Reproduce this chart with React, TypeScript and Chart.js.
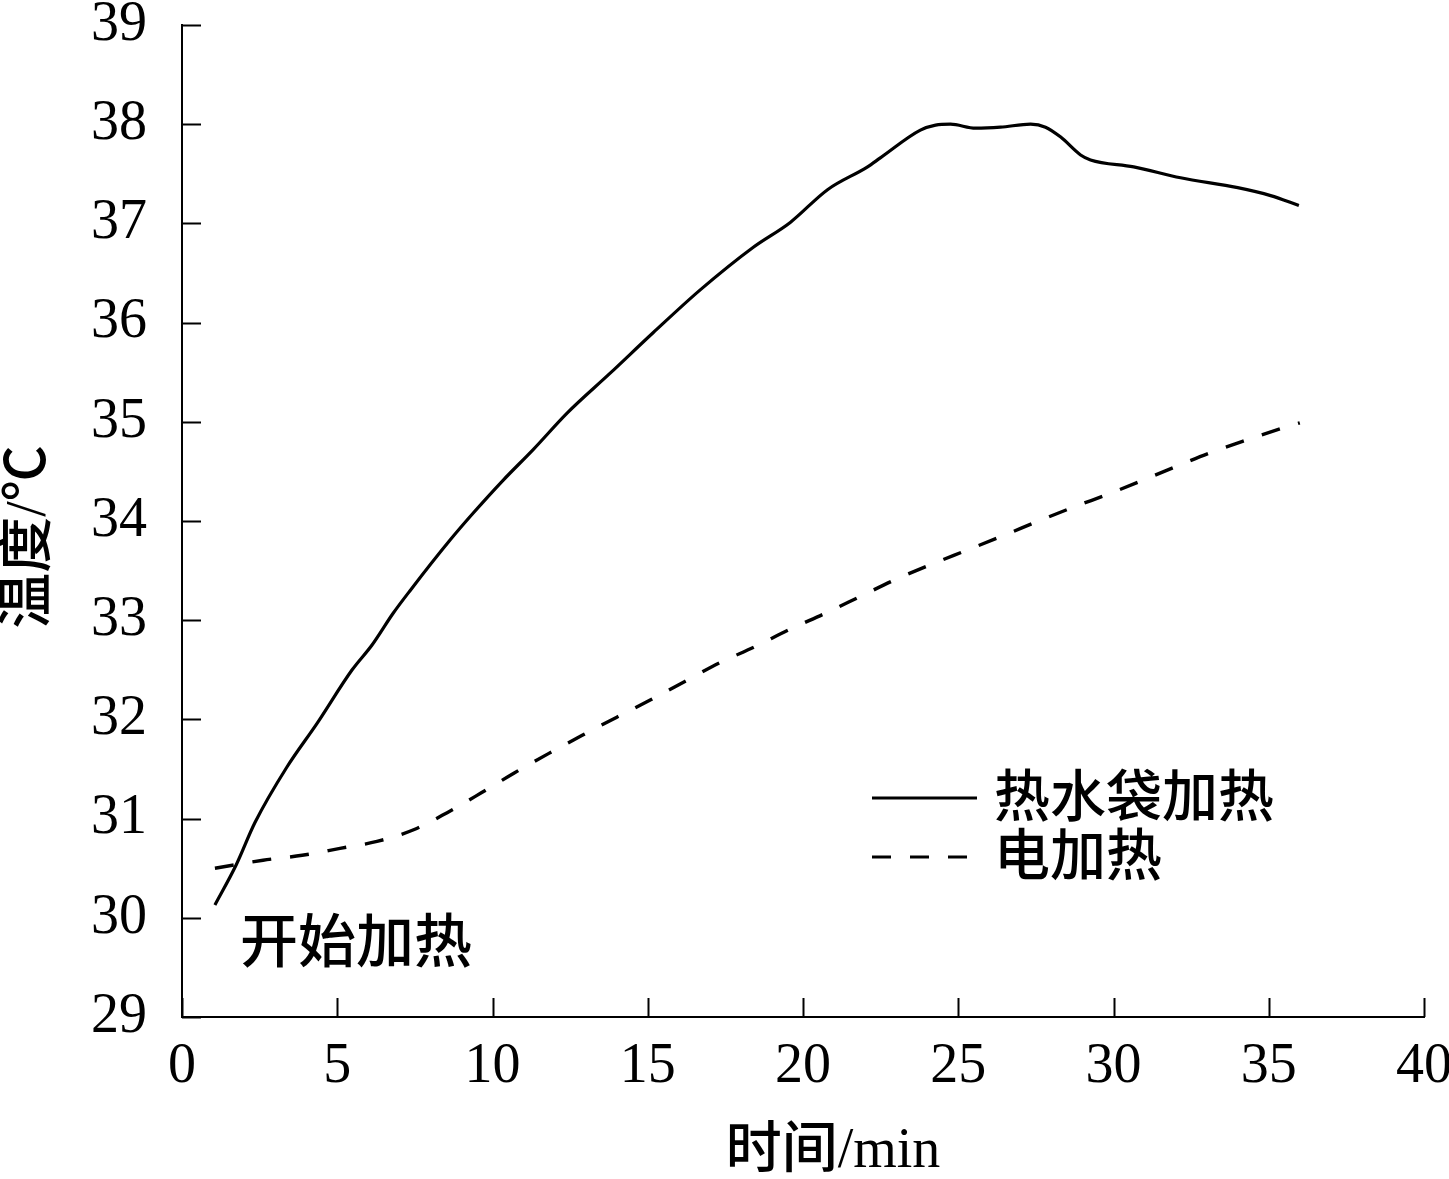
import React, { useEffect, useRef } from "react";
import { Chart, registerables } from "chart.js";

Chart.register(...registerables);

// ---- data ----
const seriesNames = ["热水袋加热", "电加热"];

const hotBagTime = [1.06, 1.74, 2.35, 3.38, 4.35, 5.48, 6.12, 6.8, 7.35, 8.64, 9.38, 10.34, 11.31, 12.41, 13.79, 15.18, 16.69, 18.4, 19.59, 20.79, 22.08, 22.49, 23.78, 24.27, 24.75, 25.56, 26.36, 27.33, 27.81, 28.3, 28.94, 29.26, 30.65, 32.16, 34.0, 35.06, 35.97];
const hotBagTemp = [30.13, 30.53, 30.96, 31.52, 31.96, 32.5, 32.75, 33.07, 33.3, 33.81, 34.08, 34.41, 34.72, 35.09, 35.49, 35.9, 36.33, 36.76, 37.01, 37.34, 37.57, 37.66, 37.94, 37.99, 38.0, 37.96, 37.97, 38.0, 37.97, 37.87, 37.69, 37.64, 37.57, 37.46, 37.36, 37.28, 37.18];

const electricTime = [1.06, 2.61, 3.87, 5.09, 6.28, 7.48, 8.54, 9.64, 10.7, 11.83, 12.89, 13.99, 15.11, 16.18, 17.31, 18.43, 19.59, 20.72, 21.85, 22.98, 24.11, 25.23, 26.43, 27.59, 28.71, 29.91, 31.94, 33.13, 34.32, 35.48, 36.0];
const electricTemp = [30.5, 30.58, 30.63, 30.7, 30.77, 30.89, 31.06, 31.26, 31.46, 31.66, 31.84, 32.02, 32.2, 32.38, 32.57, 32.73, 32.91, 33.07, 33.24, 33.41, 33.56, 33.7, 33.85, 34.0, 34.14, 34.28, 34.54, 34.69, 34.82, 34.94, 34.99];

const xMin = 0;
const xMax = 40;
const xStep = 5;
const yMin = 29;
const yMax = 39;
const yStep = 1;

const xTitle = "时间/min";
const yTitle = "温度/℃";
const annotationText = "开始加热";

// ---- styles ----
const SERIF = '"Liberation Serif", "Times New Roman", "Noto Sans CJK SC", serif';
const CJK = '"Noto Sans CJK SC", "Noto Sans", sans-serif';
const INK = "#000";

const toPoints = (xs: number[], ys: number[]) => xs.map((x, i) => ({ x, y: ys[i] }));

const decorPlugin = {
  id: "decor",
  afterDraw(chart: any) {
    const { ctx, chartArea, scales } = chart;
    const xs = scales.x;
    const ys = scales.y;
    ctx.save();
    ctx.strokeStyle = INK;
    ctx.fillStyle = INK;
    ctx.lineWidth = 2;
    ctx.setLineDash([]);
    // inward tick marks
    const tickLen = 19;
    xs.ticks.forEach((t: any) => {
      const px = Math.round(xs.getPixelForValue(t.value)) + 0.5;
      ctx.beginPath();
      ctx.moveTo(px, chartArea.bottom);
      ctx.lineTo(px, chartArea.bottom - tickLen);
      ctx.stroke();
    });
    ys.ticks.forEach((t: any) => {
      const py = Math.round(ys.getPixelForValue(t.value)) + 0.5;
      ctx.beginPath();
      ctx.moveTo(chartArea.left, py);
      ctx.lineTo(chartArea.left + tickLen, py);
      ctx.stroke();
    });

    // axis titles
    ctx.font = `500 56px ${SERIF}`;
    ctx.textAlign = "center";
    ctx.textBaseline = "alphabetic";
    ctx.fillText(xTitle, 833, 1167);

    ctx.save();
    ctx.translate(30, 537);
    ctx.rotate(-Math.PI / 2);
    ctx.textBaseline = "middle";
    ctx.fillText(yTitle, 0, 0);
    ctx.restore();

    // annotation
    ctx.font = `500 58px ${CJK}`;
    ctx.textAlign = "left";
    ctx.textBaseline = "middle";
    ctx.fillText(annotationText, 240, 940);

    // legend
    const legendX0 = 872;
    const legendX1 = 977;
    const textX = 994;
    const rows = [798, 857];
    chart.data.datasets.forEach((ds: any, i: number) => {
      const y = rows[i];
      ctx.lineWidth = 3;
      ctx.setLineDash(ds.borderDash || []);
      ctx.beginPath();
      ctx.moveTo(legendX0, y);
      ctx.lineTo(ds.borderDash && ds.borderDash.length ? 968 : legendX1, y);
      ctx.stroke();
      ctx.setLineDash([]);
      ctx.font = `500 56px ${CJK}`;
      ctx.textAlign = "left";
      ctx.textBaseline = "middle";
      ctx.fillText(ds.label, textX, y - 3);
    });
    ctx.restore();
  },
};

export default function App() {
  const ref = useRef<HTMLCanvasElement | null>(null);

  useEffect(() => {
    if (!ref.current) return;
    const chart = new Chart(ref.current, {
      type: "line",
      data: {
        datasets: [
          {
            label: seriesNames[0],
            data: toPoints(hotBagTime, hotBagTemp),
            borderColor: INK,
            borderWidth: 3.2,
            pointRadius: 0,
            cubicInterpolationMode: "monotone",
            fill: false,
          },
          {
            label: seriesNames[1],
            data: toPoints(electricTime, electricTemp),
            borderColor: INK,
            borderWidth: 3.4,
            borderDash: [19, 19],
            pointRadius: 0,
            cubicInterpolationMode: "monotone",
            fill: false,
          },
        ],
      },
      options: {
        responsive: false,
        animation: false,
        events: [],
        layout: { padding: { top: 25, right: 25, left: 0, bottom: 0 } },
        plugins: {
          legend: { display: false },
          tooltip: { enabled: false },
        },
        scales: {
          x: {
            type: "linear",
            min: xMin,
            max: xMax,
            grid: { drawOnChartArea: false, drawTicks: false },
            border: { color: INK, width: 2 },
            ticks: {
              stepSize: xStep,
              color: INK,
              padding: 17,
              maxRotation: 0,
              font: { family: SERIF, size: 56, lineHeight: 1.2 },
            },
            afterFit: (s: any) => {
              s.height = 162;
              s.paddingLeft = 0;
              s.paddingRight = 0;
            },
          },
          y: {
            type: "linear",
            min: yMin,
            max: yMax,
            grid: { drawOnChartArea: false, drawTicks: false },
            border: { color: INK, width: 2 },
            ticks: {
              stepSize: yStep,
              color: INK,
              padding: 35,
              font: { family: SERIF, size: 56, lineHeight: 1.2 },
            },
            afterFit: (s: any) => {
              s.width = 182;
              s.paddingTop = 0;
              s.paddingBottom = 0;
            },
          },
        },
      },
      plugins: [decorPlugin],
    } as any);
    return () => chart.destroy();
  }, []);

  return (
    <div style={{ position: "fixed", left: 0, top: 0, width: 1449, height: 1179, background: "#fff" }}>
      <canvas ref={ref} width={1449} height={1179} style={{ display: "block", width: 1449, height: 1179 }} />
    </div>
  );
}
